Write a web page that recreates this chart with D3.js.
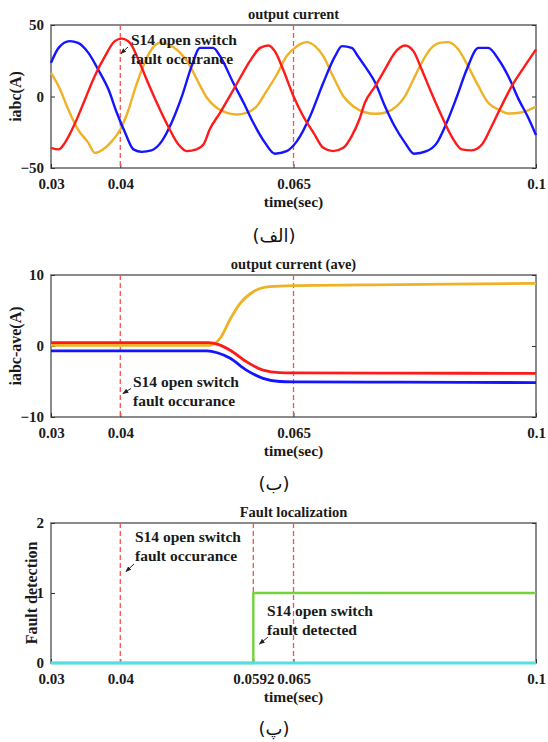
<!DOCTYPE html>
<html>
<head>
<meta charset="utf-8">
<script src="https://cdn.jsdelivr.net/npm/d3@7"></script>
<style>
  body { margin: 0; background: #fff; }
  svg { display: block; }
</style>
</head>
<body>
<div id="chart"></div>
<script>
// ---- data ----
const xTicks = [0.03, 0.04, 0.065, 0.1];
const xTicksDetect = [0.03, 0.04, 0.0592, 0.065, 0.1];
const faultLines = [0.04, 0.065];
const detectLines = [0.04, 0.0592, 0.065];

// (a) output current, [time, A]
const iaBlue = [[0.030,23.5],[0.0311,34],[0.0327,38.7],[0.0339,37.5],[0.0354,30.5],[0.0368,18.9],[0.0383,4.9],
  [0.0395,-11.4],[0.0407,-25.4],[0.0419,-37],[0.0431,-38.7],[0.0445,-37.7],[0.0460,-31.2],[0.0474,-18.4],
  [0.0489,0.2],[0.0503,21.2],[0.0515,34],[0.0534,34],[0.0544,28.2],[0.0563,9.6],[0.0578,-4.4],[0.0592,-18.4],
  [0.0609,-32.4],[0.0623,-40],[0.0640,-38.2],[0.0655,-31.2],[0.0674,-13.8],[0.0693,9.6],[0.0710,28.2],
  [0.0720,35.2],[0.0734,34],[0.0743,28.2],[0.0753,21.2],[0.0768,9.6],[0.0782,-6.8],[0.0796,-20.8],
  [0.0811,-32.4],[0.0824,-40],[0.0842,-38.2],[0.0857,-32.4],[0.0871,-18.4],[0.0886,0.2],[0.0900,18.9],
  [0.0917,34],[0.0931,34],[0.0946,25.9],[0.0960,14.2],[0.0975,-2],[0.0988,-14],[0.1,-27]];
const iaRed = [[0.030,-35.9],[0.0311,-37],[0.0320,-32.4],[0.0335,-18.4],[0.0349,-2.1],[0.0363,14.2],[0.0378,28.2],
  [0.0392,38.7],[0.0402,40.5],[0.0414,37.5],[0.0426,25.9],[0.0440,9.6],[0.0455,-6.8],[0.0469,-20.8],
  [0.0484,-33.6],[0.0496,-38.2],[0.0510,-37],[0.0520,-33.6],[0.0529,-23.1],[0.0544,-11.4],[0.0558,0.2],
  [0.0573,13.1],[0.0587,24.7],[0.0602,34],[0.0614,35.7],[0.0623,31.7],[0.0635,18.9],[0.0650,0.2],
  [0.0664,-13.8],[0.0679,-25.4],[0.0693,-35.9],[0.0707,-38.2],[0.0722,-35.9],[0.0734,-27.7],[0.0745,-16.1],
  [0.0753,-4.4],[0.0768,7.2],[0.0782,18.9],[0.0796,30.5],[0.0811,35.7],[0.0823,31.7],[0.0835,18.9],
  [0.0849,2.6],[0.0864,-13.8],[0.0878,-27.7],[0.0893,-37],[0.0907,-37.7],[0.0922,-33.6],[0.0936,-20.8],
  [0.0950,-6.8],[0.0965,7.2],[0.0982,20],[0.1,33]];
const iaYellow = [[0.030,16.6],[0.0311,7.2],[0.0325,-9.1],[0.0339,-23.1],[0.0354,-32.4],[0.0363,-39.4],
  [0.0375,-37],[0.0388,-31.2],[0.0400,-23.1],[0.0412,-9.1],[0.0421,4.9],[0.0433,21.2],[0.0445,32.9],
  [0.0457,37.5],[0.0469,36.4],[0.0484,31.7],[0.0498,23.6],[0.0513,9.6],[0.0525,-0.9],[0.0539,-7.9],
  [0.0554,-11.4],[0.0568,-12.6],[0.0582,-11.4],[0.0597,-6.8],[0.0611,3.7],[0.0626,15.4],[0.0640,28.2],
  [0.0655,35.2],[0.0669,38],[0.0681,35.2],[0.0693,28.2],[0.0707,14.2],[0.0722,0.2],[0.0736,-6.8],
  [0.0753,-11],[0.0768,-12.1],[0.0784,-11],[0.0799,-6.8],[0.0811,0.2],[0.0823,11.9],[0.0835,23.6],
  [0.0847,32.9],[0.0861,37.5],[0.0873,38],[0.0888,32.9],[0.0902,21.2],[0.0917,7.2],[0.0931,-4.4],
  [0.0946,-9.1],[0.0960,-11.9],[0.0980,-11],[0.1,-7]];

// (b) output current average, [time, A]
const aveYellow = [[0.03,0.1],[0.0529,0.1],[0.0545,1.2],[0.0558,3.66],[0.0573,6.0],[0.0592,7.65],
  [0.0616,8.35],[0.065,8.5],[0.08,8.65],[0.1,8.83]];
const aveRed = [[0.03,0.47],[0.0527,0.47],[0.0542,0.2],[0.0558,-0.56],[0.0582,-2.2],[0.0606,-3.4],
  [0.063,-3.75],[0.065,-3.78],[0.08,-3.82],[0.1,-3.85]];
const aveBlue = [[0.03,-0.7],[0.0525,-0.7],[0.0540,-0.95],[0.0558,-1.7],[0.0582,-3.4],[0.0606,-4.55],
  [0.063,-5.0],[0.065,-5.05],[0.08,-5.1],[0.1,-5.15]];

// (c) fault localization
const detectGreen = [[0.03,0],[0.0592,0],[0.0592,1],[0.1,1]];
const detectCyan = [[0.03,0],[0.1,0]];

const COLORS = { blue: "#1414ff", red: "#ff1a1a", yellow: "#efb125", green: "#76d23a", cyan: "#52e0e6",
  dash: "#ff4d4d", frame: "#6e6e6e", text: "#1a1a1a" };
const FONT = "'Liberation Serif', 'Times New Roman', serif";

const svg = d3.select("#chart").append("svg").attr("width", 548).attr("height", 742);

svg.append("defs").append("marker")
  .attr("id", "arrow").attr("viewBox", "0 0 8 8").attr("refX", 7).attr("refY", 4)
  .attr("markerWidth", 6).attr("markerHeight", 6).attr("orient", "auto")
  .append("path").attr("d", "M0,0.8 L8,4 L0,7.2 Z").attr("fill", "#222");

const x0 = 51, x1 = 536;

function panel(opt) {
  const x = d3.scaleLinear().domain([0.03, 0.1]).range([x0, x1]);
  const y = d3.scaleLinear().domain(opt.yDomain).range([opt.bottom, opt.top]);
  const g = svg.append("g");

  // frame
  g.append("rect").attr("x", x0).attr("y", opt.top).attr("width", x1 - x0).attr("height", opt.bottom - opt.top)
    .attr("fill", "none").attr("stroke", COLORS.frame).attr("stroke-width", 1.6);

  // axes (MATLAB style, ticks inward)
  const bx = g.append("g").attr("transform", "translate(0," + opt.bottom + ")")
    .call(d3.axisBottom(x).tickValues(opt.xTicks).tickSize(-4).tickPadding(10).tickFormat(d => String(d)));
  const ly = g.append("g").attr("transform", "translate(" + x0 + ",0)")
    .call(d3.axisLeft(y).tickValues(opt.yTicks).tickSize(-4).tickPadding(7).tickFormat(d3.format("d")));
  g.append("g").attr("transform", "translate(" + x1 + ",0)")
    .call(d3.axisRight(y).tickValues(opt.yTicks).tickSize(-4).tickFormat(""));
  g.selectAll(".domain").remove();
  g.selectAll(".tick line").attr("stroke", "#333").attr("stroke-width", 1);
  [bx, ly].forEach(a => a.selectAll("text")
    .style("font-family", FONT).style("font-weight", "bold").style("font-size", "15px").attr("fill", COLORS.text));

  // dashed fault markers
  g.selectAll(".fault").data(opt.vlines).enter().append("line")
    .attr("x1", d => x(d)).attr("x2", d => x(d))
    .attr("y1", opt.top).attr("y2", opt.bottom)
    .attr("stroke", COLORS.dash).attr("stroke-width", 1.3).attr("stroke-dasharray", "5,3");

  // series
  const line = d3.line().x(d => x(d[0])).y(d => y(d[1])).curve(opt.curve || d3.curveLinear);
  opt.series.forEach(s => {
    g.append("path").datum(s.data).attr("d", line)
      .attr("fill", "none").attr("stroke", s.color).attr("stroke-width", s.lw || opt.lw)
      .attr("stroke-linejoin", "round");
  });

  // titles
  g.append("text").attr("x", (x0 + x1) / 2).attr("y", opt.top - 11).attr("dy", "0.35em")
    .attr("text-anchor", "middle").style("font-family", FONT).style("font-weight", "bold")
    .style("font-size", "14.5px").attr("fill", COLORS.text).text(opt.title);
  g.append("text").attr("x", (x0 + x1) / 2).attr("y", opt.bottom + 34).attr("dy", "0.35em")
    .attr("text-anchor", "middle").style("font-family", FONT).style("font-weight", "bold")
    .style("font-size", "15.5px").attr("fill", COLORS.text).text("time(sec)");
  g.append("text")
    .attr("transform", "translate(" + opt.ylabelX + "," + (opt.top + opt.bottom) / 2 + ") rotate(-90)")
    .attr("dy", "0.35em").attr("text-anchor", "middle").style("font-family", FONT).style("font-weight", "bold")
    .style("font-size", "16px").attr("fill", COLORS.text).text(opt.ylabel);
  g.append("text").attr("x", 274).attr("y", opt.caption).attr("dy", "0.35em")
    .attr("text-anchor", "middle").style("font-family", "'DejaVu Sans', sans-serif")
    .style("font-size", "18px").attr("fill", "#111").text(opt.captionText);

  // annotations: text lines + arrow to the marker
  opt.notes.forEach(n => {
    n.lines.forEach((t, i) => {
      g.append("text").attr("x", n.tx).attr("y", n.ty + i * 19).attr("dy", "0.35em")
        .style("font-family", FONT).style("font-weight", "bold").style("font-size", "15.5px")
        .attr("fill", COLORS.text).text(t);
    });
    g.append("line").attr("x1", n.ax1).attr("y1", n.ay1).attr("x2", n.ax2).attr("y2", n.ay2)
      .attr("stroke", "#222").attr("stroke-width", 1).attr("marker-end", "url(#arrow)");
  });
}

panel({
  top: 25, bottom: 168, yDomain: [-50, 50], yTicks: [-50, 0, 50], xTicks: xTicks, vlines: faultLines,
  title: "output current", ylabel: "iabc(A)", ylabelX: 15, caption: 236, captionText: "(الف)", lw: 2.4,
  curve: d3.curveMonotoneX,
  series: [{data: iaYellow, color: COLORS.yellow}, {data: iaBlue, color: COLORS.blue}, {data: iaRed, color: COLORS.red}],
  notes: [{lines: ["S14 open switch", "fault occurance"], tx: 131, ty: 40, ax1: 128, ay1: 47, ax2: 121, ay2: 53.5}]
});

panel({
  top: 275, bottom: 417, yDomain: [-10, 10], yTicks: [-10, 0, 10], xTicks: xTicks, vlines: faultLines,
  title: "output current (ave)", ylabel: "iabc-ave(A)", ylabelX: 15, caption: 484, captionText: "(ب)", lw: 2.8,
  curve: d3.curveMonotoneX,
  series: [{data: aveYellow, color: COLORS.yellow}, {data: aveBlue, color: COLORS.blue}, {data: aveRed, color: COLORS.red}],
  notes: [{lines: ["S14 open switch", "fault occurance"], tx: 133, ty: 382, ax1: 131, ay1: 388.5, ax2: 123, ay2: 393.5}]
});

panel({
  top: 523, bottom: 663, yDomain: [0, 2], yTicks: [0, 1, 2], xTicks: xTicksDetect, vlines: detectLines,
  title: "Fault localization", ylabel: "Fault detection", ylabelX: 31, caption: 729, captionText: "(پ)", lw: 2.4,
  series: [{data: detectGreen, color: COLORS.green}, {data: detectCyan, color: COLORS.cyan, lw: 3}],
  notes: [
    {lines: ["S14 open switch", "fault occurance"], tx: 135, ty: 537, ax1: 134, ay1: 564, ax2: 126, ay2: 571.5},
    {lines: ["S14 open switch", "fault detected"], tx: 267, ty: 611, ax1: 268, ay1: 637, ax2: 259.5, ay2: 644}
  ]
});
</script>
</body>
</html>
